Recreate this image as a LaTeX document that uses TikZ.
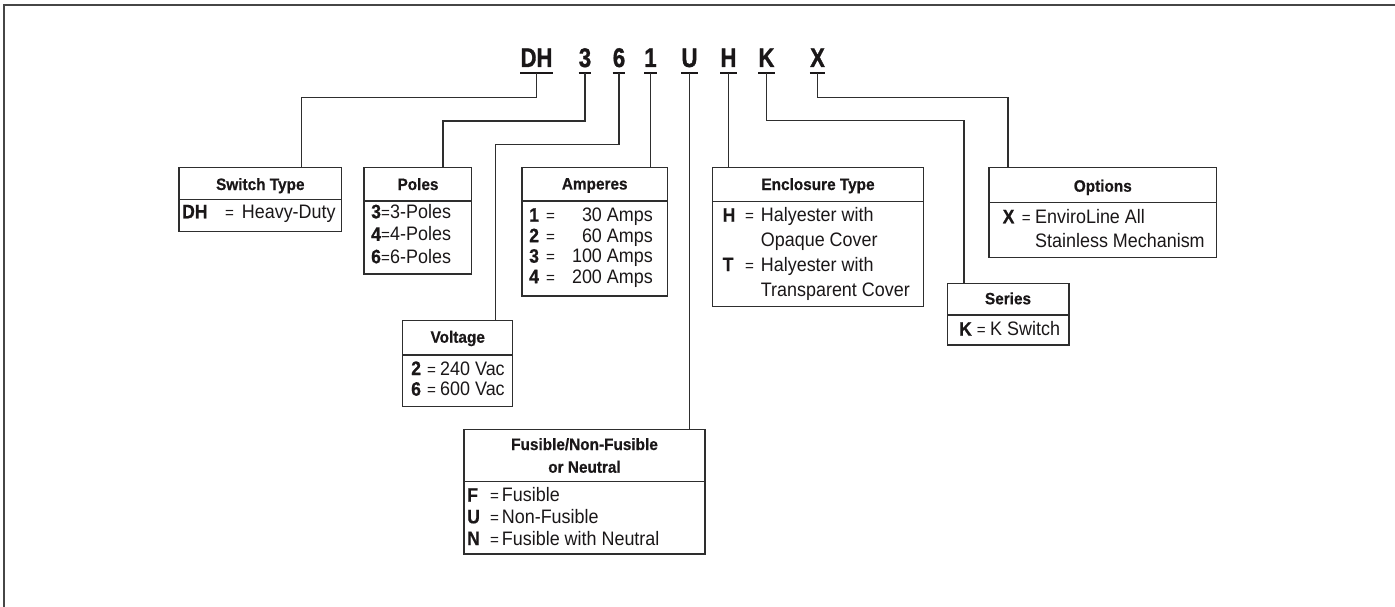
\documentclass[tikz,border=0pt]{standalone}
\usepackage{fontspec}
\setmainfont{Liberation Sans}
\newfontfamily\bodyf{Liberation Sans}[FakeStretch=0.92]
\newfontfamily\keyf{Liberation Sans Bold}[FakeStretch=0.9, FakeBold=0.6]
\newfontfamily\titlef{Liberation Sans Bold}[FakeStretch=0.93, FakeBold=0.6]
\newfontfamily\codef{Liberation Sans Bold}[FakeStretch=0.82, FakeBold=1.2]
\definecolor{ink}{HTML}{1A1718}
\definecolor{lin}{HTML}{2E2E2E}
\newcommand{\ent}[7]{%
  \node[keyt] (#1k) at (#3,#2) {#6};
  \node[eqt] (#1e) at (#4,#2) {=};
  \node[btxt] (#1t) at (#5,#2) {#7};}
\newcommand{\entR}[7]{%
  \node[keyt] (#1k) at (#3,#2) {#6};
  \node[eqt] (#1e) at (#4,#2) {=};
  \node[rtxt] (#1t) at (#5,#2) {#7};}
\newcommand{\bx}[6]{%
  \node[box, minimum width={(#4-#2)*1pt}, minimum height={(#5-#3)*1pt}] (#1) at (#2,#3) {};
  \draw[divl] ([yshift={-(#6-#3)*1pt}]#1.north west) -- ([yshift={-(#6-#3)*1pt}]#1.north east);}
\begin{document}
\begin{tikzpicture}[x=1pt,y=-1pt,
  box/.style={draw=lin, line width=1.5pt, inner sep=0pt, outer sep=0pt, anchor=north west},
  divl/.style={draw=lin, line width=1.4pt},
  con/.style={draw=lin, line width=1.4pt},
  ul/.style={draw=ink, line width=2.2pt},
  code/.style={anchor=base, inner sep=0pt, text=ink, font=\codef\fontsize{27}{30}\selectfont},
  titl/.style={anchor=base, inner sep=0pt, text=ink, font=\titlef\fontsize{16.5}{19}\selectfont},
  keyt/.style={anchor=base west, inner sep=0pt, text=ink, font=\keyf\fontsize{19.5}{22}\selectfont},
  eqt/.style={anchor=base west, inner sep=0pt, text=ink, font=\bodyf\fontsize{16.5}{20}\selectfont},
  btxt/.style={anchor=base west, inner sep=0pt, text=ink, font=\bodyf\fontsize{19.5}{22}\selectfont},
  rtxt/.style={btxt, anchor=base east}]
\useasboundingbox (0,0) rectangle (1395,607);
% frame
\draw[line width=2.4pt, draw=gray!55!black] (4,608) -- (4,5) -- (1396,5);

% code letters
\node[code] (cDH) at (536.5,67) {DH};
\node[code] (c3) at (585,67) {3};
\node[code] (c6) at (619,67) {6};
\node[code] (c1) at (650.5,67) {1};
\node[code] (cU) at (689.5,67) {U};
\node[code] (cH) at (728.5,67) {H};
\node[code] (cK) at (766.5,67) {K};
\node[code] (cX) at (817.5,67) {X};
\foreach \n in {DH,3,6,1,U,H,K,X}{
  \draw[ul] ([yshift=-5.7pt]c\n.south west) -- ([yshift=-5.7pt]c\n.south east);
  \coordinate (u\n) at ([yshift=-5.7pt]c\n.south);
}

% boxes
\bx{sw}{179}{167.5}{341.7}{231.7}{199.5}
\bx{po}{364}{167.5}{471.7}{274}{201}
\bx{am}{522}{167.5}{667.3}{296}{201}
\bx{vo}{402.7}{320.7}{512.7}{406.7}{355}
\bx{fu}{464}{429.3}{705}{554}{481.7}
\bx{en}{712.7}{167.5}{923.3}{306.7}{201.7}
\bx{se}{947.3}{283.3}{1069}{345}{315}
\bx{op}{989}{167.5}{1216.7}{257.3}{202.3}

% titles
\node[titl] (swT) at (260.3,190) {Switch Type};
\node[titl] (poT) at (418,190) {Poles};
\node[titl] (amT) at (594.7,189.5) {Amperes};
\node[titl] (voT) at (457.7,342.7) {Voltage};
\node[titl] (fuT1) at (584.5,450) {Fusible/Non-Fusible};
\node[titl] (fuT2) at (584.5,472.7) {or Neutral};
\node[titl] (enT) at (818,190) {Enclosure Type};
\node[titl] (seT) at (1008,304.3) {Series};
\node[titl] (opT) at (1102.8,191.7) {Options};

% entries
\ent{sw1}{218.3}{182}{225}{241.7}{DH}{Heavy-Duty}
\ent{po1}{218.3}{371}{381}{390}{3}{3-Poles}
\ent{po2}{240.8}{371}{381}{390}{4}{4-Poles}
\ent{po3}{263.3}{371}{381}{390}{6}{6-Poles}
\entR{am1}{221.7}{529}{546}{653}{1}{30 Amps}
\entR{am2}{242.2}{529}{546}{653}{2}{60 Amps}
\entR{am3}{262.7}{529}{546}{653}{3}{100 Amps}
\entR{am4}{283.2}{529}{546}{653}{4}{200 Amps}
\ent{vo1}{375}{411}{427}{440}{2}{240 Vac}
\ent{vo2}{395.7}{411}{427}{440}{6}{600 Vac}
\ent{fu1}{501.7}{467}{490}{501.7}{F}{Fusible}
\ent{fu2}{523.3}{467}{490}{501.7}{U}{Non-Fusible}
\ent{fu3}{545}{467}{490}{501.7}{N}{Fusible with Neutral}
\ent{en1}{221.7}{722.5}{745}{760.7}{H}{Halyester with}
\node[btxt] (en2) at (760.7,246) {Opaque Cover};
\ent{en3}{271}{722.5}{745}{760.7}{T}{Halyester with}
\node[btxt] (en4) at (760.7,296) {Transparent Cover};
\ent{se1}{335.7}{959}{976.7}{990}{K}{K Switch}
\ent{op1}{223.3}{1002.5}{1021.7}{1035}{X}{EnviroLine All}
\node[btxt] (op2) at (1035,247.3) {Stainless Mechanism};

% bend points
\coordinate (kDH) at (301.7,97.3);
\coordinate (k3) at (443,121);
\coordinate (k6) at (495.5,144.3);
\coordinate (kK) at (964,120.7);
\coordinate (kX) at (1008,97.3);

% connectors
\draw[con] (uDH) |- (kDH) -- (kDH |- sw.north);
\draw[con] (u3) |- (k3) -- (k3 |- po.north);
\draw[con] (u6) |- (k6) -- (k6 |- vo.north);
\draw[con] (u1) -- (u1 |- am.north);
\draw[con] (uU) -- (uU |- fu.north);
\draw[con] (uH) -- (uH |- en.north);
\draw[con] (uK) |- (kK) -- (kK |- se.north);
\draw[con] (uX) |- (kX) -- (kX |- op.north);
\end{tikzpicture}
\end{document}
